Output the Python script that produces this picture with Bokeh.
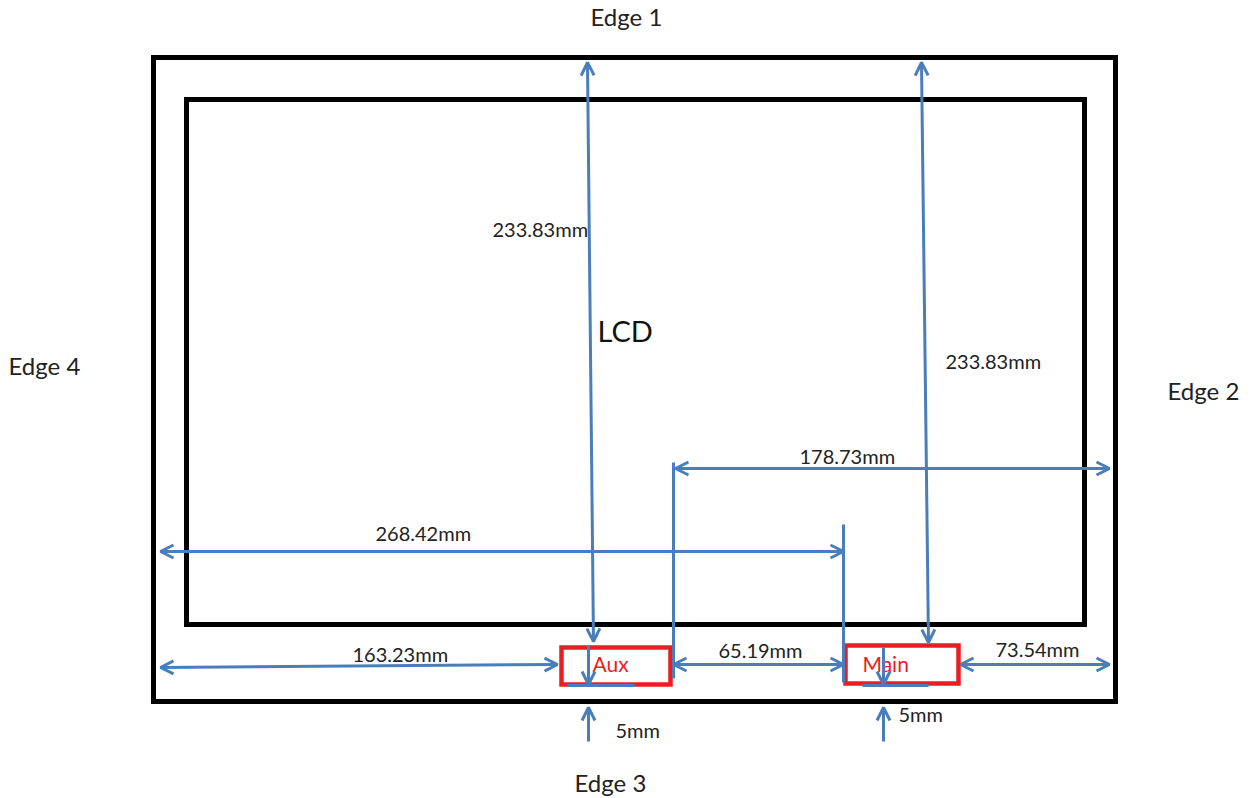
from bokeh.plotting import figure
from bokeh.models import Arrow, OpenHead, Range1d
from bokeh.core.properties import value
from bokeh.embed import file_html
from bokeh.resources import INLINE

# Frames: left, top, right, bottom
frame_names = ["outer", "lcd"]
frame_left = [153, 186]
frame_top = [57, 99]
frame_right = [1115, 1084]
frame_bottom = [701, 624]

module_names = ["Aux", "Main"]
module_left = [561, 845]
module_top = [647, 645]
module_right = [670, 958]
module_bottom = [684, 683]

# Double-headed dimension arrows
dim_x0 = [587, 921, 675, 160, 160, 673, 960]
dim_y0 = [62, 62, 468, 551, 667, 664, 664]
dim_x1 = [593, 928, 1109, 843, 557, 843, 1109]
dim_y1 = [641, 642, 468, 551, 664, 664, 664]

# Single-headed arrows
one_x0 = [588, 883, 588, 883]
one_y0 = [741, 741, 645, 647]
one_x1 = [588, 883, 588, 883]
one_y1 = [707, 707, 684, 684]

# Plain guide lines
line_x0 = [673, 843, 567, 862]
line_y0 = [462, 524, 685, 685]
line_x1 = [673, 843, 634, 928]
line_y1 = [678, 682, 685, 685]

# Labels
edge_text = ["Edge 1", "Edge 2", "Edge 3", "Edge 4"]
edge_x = [590, 1167, 574, 8]
edge_y = [16, 390, 782, 365]

label_text = ["233.83mm", "233.83mm", "178.73mm", "268.42mm", "163.23mm",
              "65.19mm", "73.54mm", "5mm", "5mm"]
label_x = [492, 945, 799, 375, 352, 718, 995, 615, 898]
label_y = [228, 360, 455, 532, 653, 649, 648, 729, 713]

BLUE = "#4a7ebb"
RED = "#ed1c24"
W, H = 1251, 798

p = figure(width=W, height=H, output_backend="svg", toolbar_location=None,
           x_range=Range1d(0, W), y_range=Range1d(H, 0),
           min_border=0, outline_line_color=None)
p.axis.visible = False
p.grid.visible = False

p.quad(left=frame_left, right=frame_right, top=frame_top, bottom=frame_bottom,
       fill_color=None, line_color="#000000", line_width=5, line_join="miter")
p.quad(left=module_left, right=module_right, top=module_top, bottom=module_bottom,
       fill_color=None, line_color=RED, line_width=4.5, line_join="miter")

p.segment(line_x0, line_y0, line_x1, line_y1, line_color=BLUE, line_width=3)

for x0, y0, x1, y1 in zip(dim_x0, dim_y0, dim_x1, dim_y1):
    p.add_layout(Arrow(
        start=OpenHead(size=13, line_color=BLUE, line_width=3),
        end=OpenHead(size=13, line_color=BLUE, line_width=3),
        x_start=x0, y_start=y0, x_end=x1, y_end=y1,
        line_color=BLUE, line_width=3))

for x0, y0, x1, y1 in zip(one_x0, one_y0, one_x1, one_y1):
    p.add_layout(Arrow(
        end=OpenHead(size=13, line_color=BLUE, line_width=3),
        x_start=x0, y_start=y0, x_end=x1, y_end=y1,
        line_color=BLUE, line_width=3))

p.text(x=edge_x, y=edge_y, text=edge_text, text_font=value("Lato"),
       text_font_size="24px", text_color="#222222", text_baseline="middle", text_align="left")
p.text(x=label_x, y=label_y, text=label_text, text_font=value("Lato"),
       text_font_size="20px", text_color="#222222", text_baseline="middle", text_align="left")
p.text(x=[597], y=[330], text=["LCD"], text_font=value("Lato"),
       text_font_size="29px", text_color="#111111", text_baseline="middle")
p.text(x=[592, 862], y=[663, 663], text=module_names, text_font=value("Lato"),
       text_font_size="21px", text_color=RED, text_baseline="middle")

open("out.html", "w").write(file_html(p, INLINE))
